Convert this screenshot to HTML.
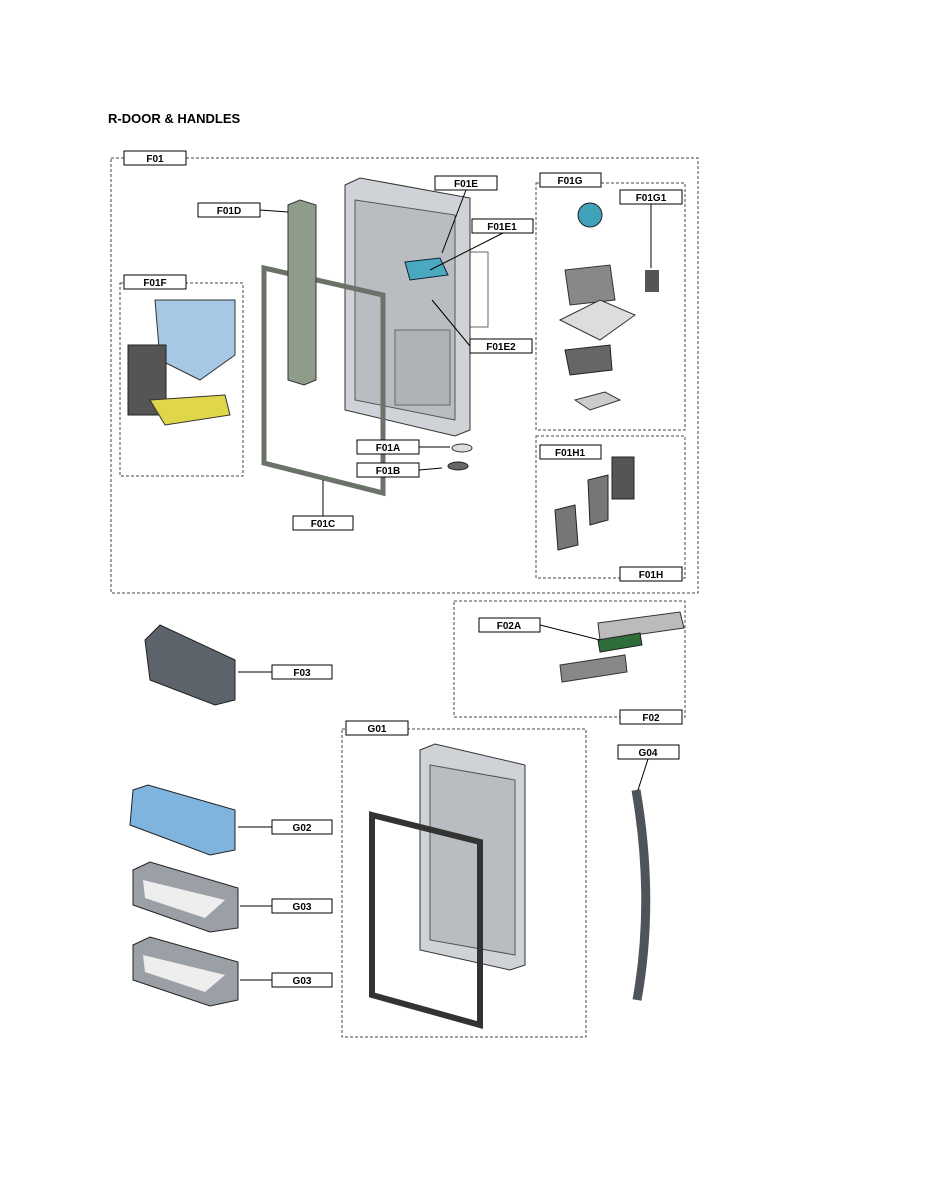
<!DOCTYPE html>
<html><head><meta charset="utf-8"><style>
html,body{margin:0;padding:0;background:#fff;}
svg{display:block;font-family:"Liberation Sans",sans-serif;}
.l{font-size:10px;font-weight:bold;}
</style></head><body>
<svg width="927" height="1200" viewBox="0 0 927 1200" xmlns="http://www.w3.org/2000/svg">
<text x="108" y="123" font-size="13" font-weight="bold">R-DOOR &amp; HANDLES</text>
<g fill="none" stroke="#444" stroke-dasharray="3,2" stroke-width="1">
<rect x="111" y="158" width="587" height="435"/>
<rect x="120" y="283" width="123" height="193"/>
<rect x="536" y="183" width="149" height="247"/>
<rect x="536" y="436" width="149" height="142"/>
<rect x="454" y="601" width="231" height="116"/>
<rect x="342" y="729" width="244" height="308"/>
<rect x="400" y="252" width="88" height="75" stroke-dasharray="none" stroke="#666"/>
</g>
<!-- door F01 -->
<polygon points="345,185 360,178 470,198 470,430 455,436 345,410" fill="#cfd2d6" stroke="#333"/>
<polygon points="355,200 455,215 455,420 355,400" fill="#b9bdc2" stroke="#555"/>
<rect x="395" y="330" width="55" height="75" fill="#aeb2b7" stroke="#666"/>
<polygon points="405,262 440,258 448,275 410,280" fill="#4aa8c0" stroke="#123"/>
<!-- F01C frame -->
<polygon points="264,268 383,295 383,493 264,463" fill="none" stroke="#6b7268" stroke-width="5"/>
<!-- F01D -->
<polygon points="288,205 300,200 316,205 316,380 304,385 288,380" fill="#8f9c8a" stroke="#333"/>
<!-- F01F -->
<polygon points="155,300 235,300 235,355 200,380 160,360" fill="#a7c8e4" stroke="#333"/>
<rect x="128" y="345" width="38" height="70" fill="#555" stroke="#222"/>
<polygon points="150,400 225,395 230,415 165,425" fill="#e0d64a" stroke="#333"/>
<!-- F01G parts -->
<circle cx="590" cy="215" r="12" fill="#3fa2b8" stroke="#222"/>
<polygon points="565,270 610,265 615,300 570,305" fill="#888" stroke="#333"/>
<polygon points="560,320 600,300 635,315 600,340" fill="#ddd" stroke="#333"/>
<polygon points="565,350 610,345 612,370 570,375" fill="#666" stroke="#222"/>
<polygon points="575,400 605,392 620,400 590,410" fill="#ccc" stroke="#333"/>
<rect x="645" y="270" width="14" height="22" fill="#555"/>
<!-- F01H parts -->
<rect x="612" y="457" width="22" height="42" fill="#555" stroke="#222"/>
<polygon points="588,480 608,475 608,520 590,525" fill="#777" stroke="#222"/>
<polygon points="555,510 575,505 578,545 558,550" fill="#777" stroke="#222"/>
<!-- F01A/B -->
<ellipse cx="462" cy="448" rx="10" ry="4" fill="#ddd" stroke="#333"/>
<ellipse cx="458" cy="466" rx="10" ry="4" fill="#666" stroke="#222"/>
<!-- F02 -->
<polygon points="598,623 680,612 684,628 600,640" fill="#bbb" stroke="#333"/>
<polygon points="598,640 640,633 642,645 600,652" fill="#2f6e3a" stroke="#222"/>
<polygon points="560,665 625,655 627,672 562,682" fill="#888" stroke="#333"/>
<!-- F03 -->
<polygon points="145,640 160,625 235,660 235,700 215,705 150,680" fill="#5c636b" stroke="#222"/>
<!-- G01 -->
<polygon points="420,750 435,744 525,765 525,965 510,970 420,950" fill="#cfd2d6" stroke="#333"/>
<polygon points="430,765 515,780 515,955 430,940" fill="#b9bdc2" stroke="#555"/>
<polygon points="372,815 480,842 480,1025 372,995" fill="none" stroke="#333" stroke-width="6"/>
<!-- G04 -->
<path d="M636,790 Q655,900 637,1000" fill="none" stroke="#4e545a" stroke-width="9"/>
<!-- bins -->
<polygon points="133,790 148,785 235,810 235,850 210,855 130,825" fill="#7fb4df" stroke="#222"/>
<polygon points="133,870 150,862 238,888 238,928 210,932 133,905" fill="#9aa0a6" stroke="#222"/>
<polygon points="143,880 225,900 205,918 145,898" fill="#eee"/>
<polygon points="133,945 150,937 238,962 238,1000 210,1006 133,980" fill="#9aa0a6" stroke="#222"/>
<polygon points="143,955 225,975 205,992 145,972" fill="#eee"/>
<!-- leader lines -->
<g stroke="#000" stroke-width="1">
<line x1="260" y1="210" x2="288" y2="212"/>
<line x1="466" y1="190" x2="442" y2="253"/>
<line x1="503" y1="233" x2="430" y2="270"/>
<line x1="470" y1="346" x2="432" y2="300"/>
<line x1="419" y1="447" x2="450" y2="447"/>
<line x1="419" y1="470" x2="442" y2="468"/>
<line x1="323" y1="516" x2="323" y2="480"/>
<line x1="651" y1="204" x2="651" y2="268"/>
<line x1="540" y1="625" x2="600" y2="640"/>
<line x1="238" y1="672" x2="272" y2="672"/>
<line x1="648" y1="759" x2="638" y2="790"/>
<line x1="238" y1="827" x2="272" y2="827"/>
<line x1="240" y1="906" x2="272" y2="906"/>
<line x1="240" y1="980" x2="272" y2="980"/>
</g>
<g fill="#fff" stroke="#000" stroke-width="1">
<rect x="124" y="151" width="62" height="14"/><rect x="124" y="275" width="62" height="14"/>
<rect x="540" y="173" width="61" height="14"/><rect x="620" y="190" width="62" height="14"/>
<rect x="540" y="445" width="61" height="14"/><rect x="620" y="567" width="62" height="14"/>
<rect x="198" y="203" width="62" height="14"/><rect x="435" y="176" width="62" height="14"/>
<rect x="472" y="219" width="61" height="14"/><rect x="470" y="339" width="62" height="14"/>
<rect x="357" y="440" width="62" height="14"/><rect x="357" y="463" width="62" height="14"/>
<rect x="293" y="516" width="60" height="14"/><rect x="620" y="710" width="62" height="14"/>
<rect x="479" y="618" width="61" height="14"/><rect x="272" y="665" width="60" height="14"/>
<rect x="346" y="721" width="62" height="14"/><rect x="618" y="745" width="61" height="14"/>
<rect x="272" y="820" width="60" height="14"/><rect x="272" y="899" width="60" height="14"/>
<rect x="272" y="973" width="60" height="14"/>
</g>
<g class="l" text-anchor="middle">
<text x="155" y="162">F01</text><text x="155" y="286">F01F</text>
<text x="570" y="184">F01G</text><text x="651" y="201">F01G1</text>
<text x="570" y="456">F01H1</text><text x="651" y="578">F01H</text>
<text x="229" y="214">F01D</text><text x="466" y="187">F01E</text>
<text x="502" y="230">F01E1</text><text x="501" y="350">F01E2</text>
<text x="388" y="451">F01A</text><text x="388" y="474">F01B</text>
<text x="323" y="527">F01C</text><text x="651" y="721">F02</text>
<text x="509" y="629">F02A</text><text x="302" y="676">F03</text>
<text x="377" y="732">G01</text><text x="648" y="756">G04</text>
<text x="302" y="831">G02</text><text x="302" y="910">G03</text>
<text x="302" y="984">G03</text>
</g>
</svg>
</body></html>
